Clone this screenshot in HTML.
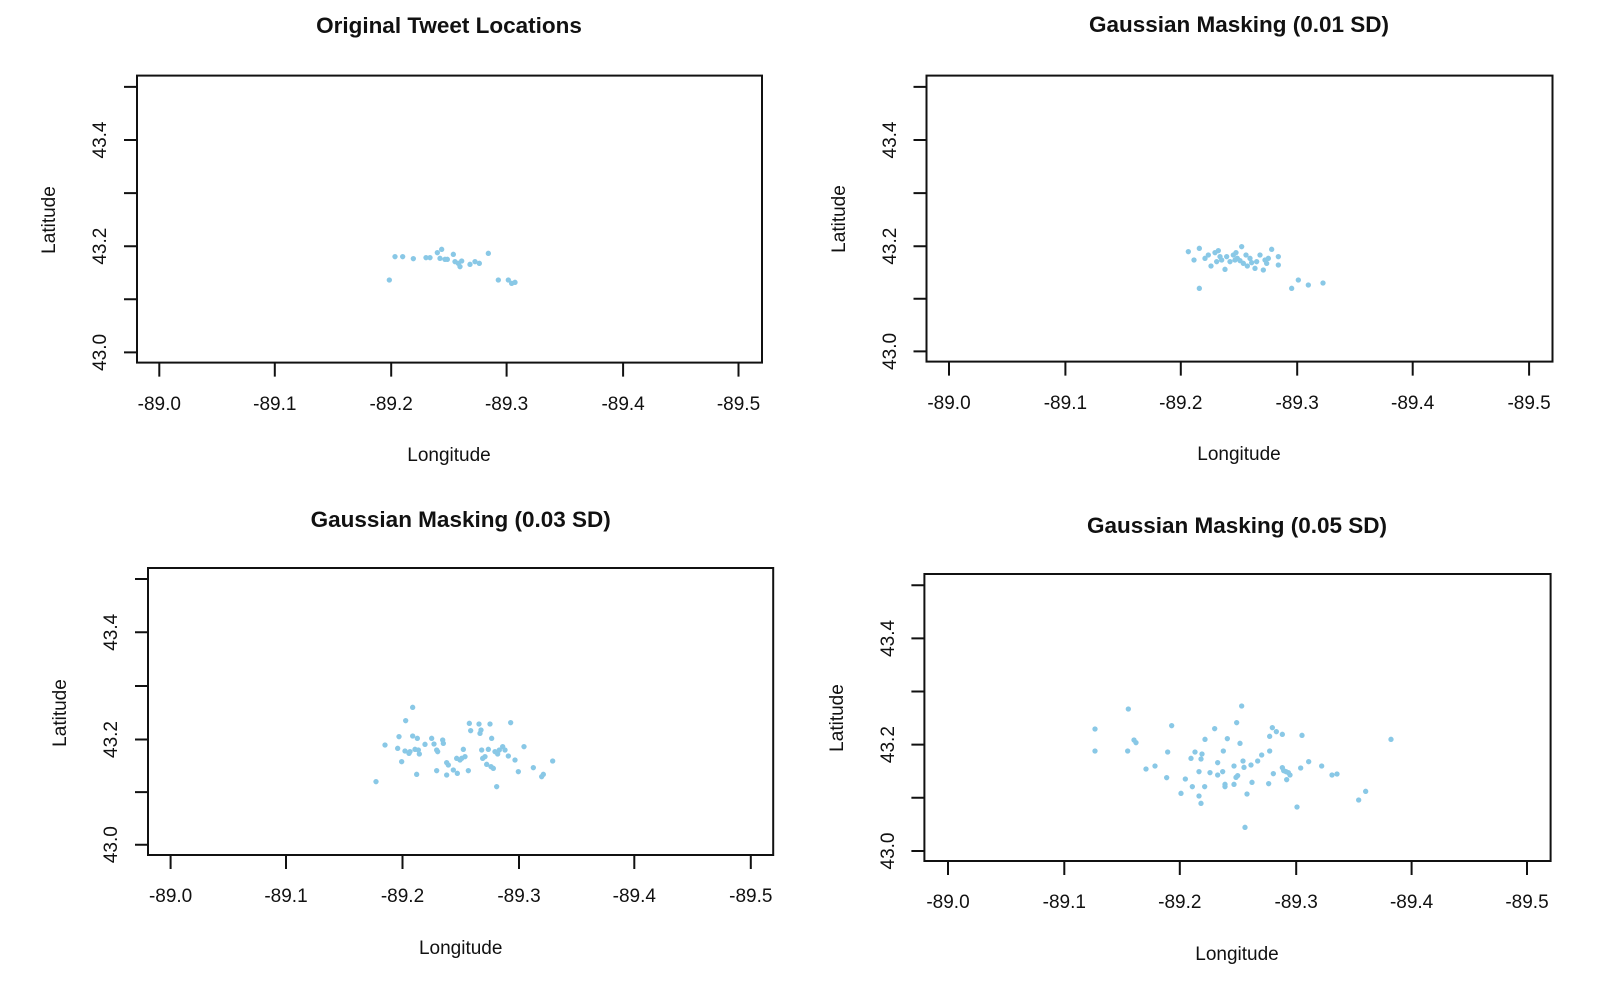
<!DOCTYPE html>
<html><head><meta charset="utf-8"><style>
html,body{margin:0;padding:0;background:#fff;}
svg{display:block;}
text{font-family:"Liberation Sans",Arial,sans-serif;fill:#111;}
.t{font-weight:bold;font-size:22.5px;}
.tk{font-size:19px;}
.lb{font-size:19px;}
.ax{stroke:#111;stroke-width:2;fill:none;}
.p circle{fill:#89c8e6;}
</style></head><body>
<svg width="1600" height="990" viewBox="0 0 1600 990" xmlns="http://www.w3.org/2000/svg">
<!-- Panel 1 -->
<g>
<text class="t" x="449" y="33" text-anchor="middle">Original Tweet Locations</text>
<rect class="ax" x="137" y="75.6" width="625" height="287"/>
<path class="ax" d="M159.3 362.6v14M274.8 362.6v14M391.2 362.6v14M506.6 362.6v14M623.1 362.6v14M738.5 362.6v14
M137 352.4h-13M137 299.3h-13M137 246.2h-13M137 193.1h-13M137 140h-13M137 86.9h-13"/>
<g class="tk" text-anchor="middle">
<text x="159.3" y="410">-89.0</text><text x="274.8" y="410">-89.1</text><text x="391.2" y="410">-89.2</text><text x="506.6" y="410">-89.3</text><text x="623.1" y="410">-89.4</text><text x="738.5" y="410">-89.5</text>
</g>
<g class="tk" text-anchor="middle">
<text transform="translate(106,352.4) rotate(-90)">43.0</text>
<text transform="translate(106,246.2) rotate(-90)">43.2</text>
<text transform="translate(106,140) rotate(-90)">43.4</text>
</g>
<text class="lb" x="449" y="461" text-anchor="middle">Longitude</text>
<text class="lb" transform="translate(55,220) rotate(-90)" text-anchor="middle">Latitude</text>
<g class="p" transform="translate(360,230) scale(0.33333)">
<circle cx="88" cy="150" r="8"/><circle cx="105" cy="80" r="8"/><circle cx="128" cy="80" r="8"/><circle cx="160" cy="86" r="8"/><circle cx="198" cy="83" r="8"/><circle cx="210" cy="83" r="8"/><circle cx="232" cy="68" r="8"/><circle cx="245" cy="58" r="8"/><circle cx="240" cy="85" r="8"/><circle cx="255" cy="88" r="8"/><circle cx="262" cy="88" r="8"/><circle cx="280" cy="73" r="8"/><circle cx="285" cy="95" r="8"/><circle cx="295" cy="100" r="8"/><circle cx="300" cy="110" r="8"/><circle cx="305" cy="93" r="8"/><circle cx="330" cy="103" r="8"/><circle cx="345" cy="95" r="8"/><circle cx="358" cy="100" r="8"/><circle cx="385" cy="70" r="8"/><circle cx="415" cy="150" r="8"/><circle cx="445" cy="150" r="8"/><circle cx="455" cy="160" r="8"/><circle cx="465" cy="157" r="8"/>
</g>
</g>
<!-- Panel 2 -->
<g>
<text class="t" x="1239" y="32" text-anchor="middle">Gaussian Masking (0.01 SD)</text>
<rect class="ax" x="926.5" y="75.6" width="626" height="286"/>
<path class="ax" d="M949 361.6v14M1065.4 361.6v14M1180.8 361.6v14M1297.2 361.6v14M1412.7 361.6v14M1529.1 361.6v14
M926.5 351.4h-13M926.5 298.8h-13M926.5 246.2h-13M926.5 193.1h-13M926.5 140h-13M926.5 86.9h-13"/>
<g class="tk" text-anchor="middle">
<text x="949" y="409">-89.0</text><text x="1065.4" y="409">-89.1</text><text x="1180.8" y="409">-89.2</text><text x="1297.2" y="409">-89.3</text><text x="1412.7" y="409">-89.4</text><text x="1529.1" y="409">-89.5</text>
</g>
<g class="tk" text-anchor="middle">
<text transform="translate(896,351.4) rotate(-90)">43.0</text>
<text transform="translate(896,246.2) rotate(-90)">43.2</text>
<text transform="translate(896,140) rotate(-90)">43.4</text>
</g>
<text class="lb" x="1239" y="460" text-anchor="middle">Longitude</text>
<text class="lb" transform="translate(845,219) rotate(-90)" text-anchor="middle">Latitude</text>
<g class="p" transform="translate(1150,230) scale(0.33333)">
<circle cx="115" cy="65" r="8"/><circle cx="148" cy="55" r="8"/><circle cx="132" cy="90" r="8"/><circle cx="165" cy="85" r="8"/><circle cx="175" cy="75" r="8"/><circle cx="183" cy="108" r="8"/><circle cx="195" cy="68" r="8"/><circle cx="205" cy="62" r="8"/><circle cx="210" cy="80" r="8"/><circle cx="215" cy="90" r="8"/><circle cx="225" cy="118" r="8"/><circle cx="230" cy="80" r="8"/><circle cx="240" cy="95" r="8"/><circle cx="250" cy="75" r="8"/><circle cx="258" cy="68" r="8"/><circle cx="262" cy="85" r="8"/><circle cx="270" cy="92" r="8"/><circle cx="275" cy="50" r="8"/><circle cx="280" cy="100" r="8"/><circle cx="288" cy="75" r="8"/><circle cx="292" cy="108" r="8"/><circle cx="305" cy="98" r="8"/><circle cx="315" cy="115" r="8"/><circle cx="320" cy="95" r="8"/><circle cx="330" cy="75" r="8"/><circle cx="340" cy="120" r="8"/><circle cx="345" cy="90" r="8"/><circle cx="350" cy="100" r="8"/><circle cx="355" cy="85" r="8"/><circle cx="365" cy="58" r="8"/><circle cx="385" cy="80" r="8"/><circle cx="385" cy="105" r="8"/><circle cx="148" cy="175" r="8"/><circle cx="425" cy="175" r="8"/><circle cx="445" cy="150" r="8"/><circle cx="475" cy="165" r="8"/><circle cx="519" cy="159" r="8"/><circle cx="200" cy="95" r="8"/><circle cx="255" cy="90" r="8"/><circle cx="300" cy="85" r="8"/>
</g>
</g>
<!-- Panel 3 -->
<g>
<text class="t" x="460.7" y="527" text-anchor="middle">Gaussian Masking (0.03 SD)</text>
<rect class="ax" x="148" y="568" width="625.2" height="287"/>
<path class="ax" d="M170.6 855v14M286 855v14M402.5 855v14M519 855v14M634.3 855v14M750.8 855v14
M148 844.7h-13M148 792.1h-13M148 739.5h-13M148 686h-13M148 632.3h-13M148 579h-13"/>
<g class="tk" text-anchor="middle">
<text x="170.6" y="902">-89.0</text><text x="286" y="902">-89.1</text><text x="402.5" y="902">-89.2</text><text x="519" y="902">-89.3</text><text x="634.3" y="902">-89.4</text><text x="750.8" y="902">-89.5</text>
</g>
<g class="tk" text-anchor="middle">
<text transform="translate(117,844.7) rotate(-90)">43.0</text>
<text transform="translate(117,739.5) rotate(-90)">43.2</text>
<text transform="translate(117,632.3) rotate(-90)">43.4</text>
</g>
<text class="lb" x="460.7" y="954" text-anchor="middle">Longitude</text>
<text class="lb" transform="translate(66,713) rotate(-90)" text-anchor="middle">Latitude</text>
<g class="p" transform="translate(360,680) scale(0.33333)">
<circle cx="48" cy="305" r="8"/><circle cx="75" cy="195" r="8"/><circle cx="113" cy="205" r="8"/><circle cx="117" cy="170" r="8"/><circle cx="125" cy="245" r="8"/><circle cx="137" cy="122" r="8"/><circle cx="135" cy="213" r="8"/><circle cx="147" cy="220" r="8"/><circle cx="150" cy="215" r="8"/><circle cx="158" cy="82" r="8"/><circle cx="158" cy="168" r="8"/><circle cx="165" cy="208" r="8"/><circle cx="172" cy="175" r="8"/><circle cx="175" cy="210" r="8"/><circle cx="178" cy="222" r="8"/><circle cx="170" cy="283" r="8"/><circle cx="195" cy="193" r="8"/><circle cx="215" cy="175" r="8"/><circle cx="222" cy="192" r="8"/><circle cx="230" cy="210" r="8"/><circle cx="233" cy="215" r="8"/><circle cx="230" cy="272" r="8"/><circle cx="248" cy="180" r="8"/><circle cx="250" cy="190" r="8"/><circle cx="260" cy="248" r="8"/><circle cx="265" cy="255" r="8"/><circle cx="260" cy="285" r="8"/><circle cx="280" cy="270" r="8"/><circle cx="290" cy="235" r="8"/><circle cx="292" cy="280" r="8"/><circle cx="300" cy="240" r="8"/><circle cx="310" cy="208" r="8"/><circle cx="305" cy="235" r="8"/><circle cx="315" cy="230" r="8"/><circle cx="325" cy="272" r="8"/><circle cx="328" cy="130" r="8"/><circle cx="332" cy="152" r="8"/><circle cx="357" cy="132" r="8"/><circle cx="360" cy="160" r="8"/><circle cx="363" cy="150" r="8"/><circle cx="365" cy="210" r="8"/><circle cx="368" cy="235" r="8"/><circle cx="375" cy="230" r="8"/><circle cx="380" cy="253" r="8"/><circle cx="385" cy="208" r="8"/><circle cx="390" cy="132" r="8"/><circle cx="395" cy="175" r="8"/><circle cx="393" cy="260" r="8"/><circle cx="400" cy="265" r="8"/><circle cx="405" cy="215" r="8"/><circle cx="410" cy="320" r="8"/><circle cx="413" cy="222" r="8"/><circle cx="418" cy="210" r="8"/><circle cx="428" cy="200" r="8"/><circle cx="435" cy="210" r="8"/><circle cx="445" cy="228" r="8"/><circle cx="452" cy="128" r="8"/><circle cx="465" cy="240" r="8"/><circle cx="475" cy="275" r="8"/><circle cx="492" cy="200" r="8"/><circle cx="520" cy="263" r="8"/><circle cx="545" cy="290" r="8"/><circle cx="550" cy="283" r="8"/><circle cx="578" cy="243" r="8"/>
</g>
</g>
<!-- Panel 4 -->
<g>
<text class="t" x="1237" y="533" text-anchor="middle">Gaussian Masking (0.05 SD)</text>
<rect class="ax" x="924.4" y="574" width="626.2" height="287"/>
<path class="ax" d="M948 861v14M1064.3 861v14M1179.8 861v14M1296.2 861v14M1411.6 861v14M1527 861v14
M924.4 851h-13M924.4 797.8h-13M924.4 744.6h-13M924.4 691.5h-13M924.4 638.4h-13M924.4 585.3h-13"/>
<g class="tk" text-anchor="middle">
<text x="948" y="908">-89.0</text><text x="1064.3" y="908">-89.1</text><text x="1179.8" y="908">-89.2</text><text x="1296.2" y="908">-89.3</text><text x="1411.6" y="908">-89.4</text><text x="1527" y="908">-89.5</text>
</g>
<g class="tk" text-anchor="middle">
<text transform="translate(894,851) rotate(-90)">43.0</text>
<text transform="translate(894,744.6) rotate(-90)">43.2</text>
<text transform="translate(894,638.4) rotate(-90)">43.4</text>
</g>
<text class="lb" x="1237" y="960" text-anchor="middle">Longitude</text>
<text class="lb" transform="translate(843,718) rotate(-90)" text-anchor="middle">Latitude</text>
<g class="p" transform="translate(1060,680) scale(0.33333)">
<circle cx="105" cy="147" r="8"/><circle cx="105" cy="213" r="8"/><circle cx="205" cy="87" r="8"/><circle cx="203" cy="213" r="8"/><circle cx="222" cy="180" r="8"/><circle cx="228" cy="188" r="8"/><circle cx="258" cy="267" r="8"/><circle cx="285" cy="258" r="8"/><circle cx="320" cy="293" r="8"/><circle cx="323" cy="216" r="8"/><circle cx="335" cy="137" r="8"/><circle cx="363" cy="340" r="8"/><circle cx="376" cy="297" r="8"/><circle cx="393" cy="235" r="8"/><circle cx="397" cy="320" r="8"/><circle cx="405" cy="216" r="8"/><circle cx="417" cy="348" r="8"/><circle cx="417" cy="275" r="8"/><circle cx="423" cy="370" r="8"/><circle cx="423" cy="237" r="8"/><circle cx="426" cy="222" r="8"/><circle cx="434" cy="320" r="8"/><circle cx="435" cy="178" r="8"/><circle cx="450" cy="278" r="8"/><circle cx="464" cy="146" r="8"/><circle cx="473" cy="248" r="8"/><circle cx="473" cy="285" r="8"/><circle cx="488" cy="275" r="8"/><circle cx="490" cy="213" r="8"/><circle cx="495" cy="313" r="8"/><circle cx="495" cy="320" r="8"/><circle cx="502" cy="176" r="8"/><circle cx="522" cy="258" r="8"/><circle cx="522" cy="313" r="8"/><circle cx="528" cy="292" r="8"/><circle cx="530" cy="128" r="8"/><circle cx="533" cy="287" r="8"/><circle cx="540" cy="190" r="8"/><circle cx="545" cy="78" r="8"/><circle cx="549" cy="243" r="8"/><circle cx="552" cy="262" r="8"/><circle cx="561" cy="342" r="8"/><circle cx="573" cy="255" r="8"/><circle cx="576" cy="307" r="8"/><circle cx="593" cy="243" r="8"/><circle cx="605" cy="225" r="8"/><circle cx="626" cy="311" r="8"/><circle cx="629" cy="213" r="8"/><circle cx="629" cy="169" r="8"/><circle cx="637" cy="143" r="8"/><circle cx="640" cy="281" r="8"/><circle cx="649" cy="155" r="8"/><circle cx="667" cy="163" r="8"/><circle cx="667" cy="263" r="8"/><circle cx="671" cy="272" r="8"/><circle cx="678" cy="275" r="8"/><circle cx="680" cy="299" r="8"/><circle cx="685" cy="278" r="8"/><circle cx="690" cy="285" r="8"/><circle cx="711" cy="381" r="8"/><circle cx="722" cy="264" r="8"/><circle cx="726" cy="166" r="8"/><circle cx="746" cy="245" r="8"/><circle cx="785" cy="258" r="8"/><circle cx="816" cy="285" r="8"/><circle cx="831" cy="282" r="8"/><circle cx="896" cy="360" r="8"/><circle cx="917" cy="334" r="8"/><circle cx="993" cy="178" r="8"/><circle cx="555" cy="442" r="8"/>
</g>
</g>
</svg>
</body></html>
